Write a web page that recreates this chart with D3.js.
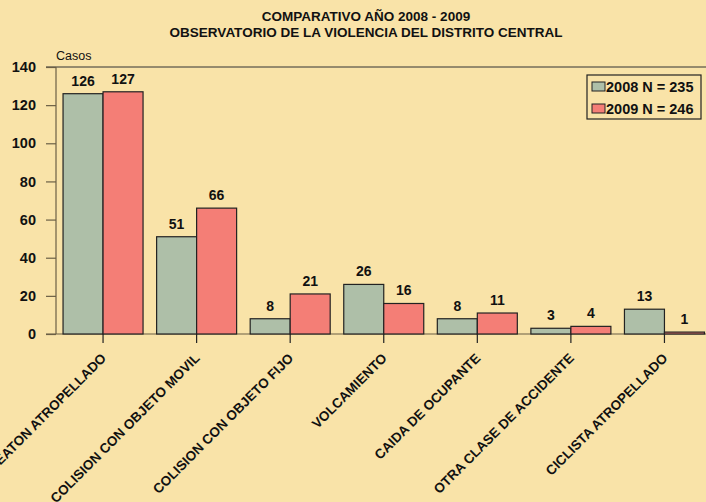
<!DOCTYPE html>
<html><head><meta charset="utf-8">
<script src="https://cdn.jsdelivr.net/npm/d3@7"></script>
<style>body{margin:0;background:#F9E3A8;}svg{display:block;font-family:"Liberation Sans",Arial,sans-serif;}</style>
</head><body>
<script>
const categories = ["PEATON ATROPELLADO","COLISION CON OBJETO MOVIL","COLISION CON OBJETO FIJO","VOLCAMIENTO","CAIDA DE OCUPANTE","OTRA CLASE DE ACCIDENTE","CICLISTA ATROPELLADO"];
const series = ["2008 N = 235","2009 N = 246"];
const values2008 = [126,51,8,26,8,3,13];
const values2009 = [127,66,21,16,11,4,1];
const yTicks = [0,20,40,60,80,100,120,140];
const titleLines = ["COMPARATIVO AÑO 2008 - 2009","OBSERVATORIO DE LA VIOLENCIA DEL DISTRITO CENTRAL"];
const colors = ["#AEBFA8","#F47E76"];

const W=706,H=502;
const svg=d3.select("body").append("svg").attr("width",W).attr("height",H);
svg.append("rect").attr("width",W).attr("height",H).attr("fill","#F9E3A8");

const y=d3.scaleLinear().domain([0,140]).range([334,67]);
const x0=d3.scaleBand().domain(categories).range([56.5,711]).paddingInner(0.145).paddingOuter(0.07);
const x1=d3.scaleBand().domain([0,1]).range([0,x0.bandwidth()]);

// frame lines
svg.append("line").attr("x1",46).attr("x2",W).attr("y1",y(140)).attr("y2",y(140)).attr("stroke","#333").attr("stroke-width",1);
svg.append("line").attr("x1",46).attr("x2",W).attr("y1",y(0)).attr("y2",y(0)).attr("stroke","#6b5f45").attr("stroke-width",1.2);
svg.append("line").attr("x1",56).attr("x2",56).attr("y1",y(0)).attr("y2",y(140)).attr("stroke","#6b5f45").attr("stroke-width",1.2);

// y axis
const ya=svg.append("g").attr("transform","translate(56,0)").call(d3.axisLeft(y).tickValues(yTicks).tickSize(10).tickPadding(10));
ya.select(".domain").remove();
ya.selectAll("line").attr("stroke","#6b5f45").attr("stroke-width",1.2);
ya.selectAll("text").attr("font-size",14.5).attr("font-weight","bold").attr("fill","#111").attr("font-family","Liberation Sans, Arial, sans-serif");

svg.append("text").attr("x",56).attr("y",60).attr("font-size",12.5).attr("fill","#111").text("Casos");

// bars
const data=categories.map((c,i)=>({c,v:[values2008[i],values2009[i]]}));
const g=svg.append("g");
data.forEach(d=>{
  d.v.forEach((v,k)=>{
    const bx=x0(d.c)+x1(k);
    g.append("rect").attr("x",bx).attr("y",y(v)).attr("width",x1.bandwidth()).attr("height",y(0)-y(v))
      .attr("fill",colors[k]).attr("stroke","#222").attr("stroke-width",1.2);
    g.append("text").attr("x",bx+x1.bandwidth()/2).attr("y",y(v)-8).attr("text-anchor","middle")
      .attr("font-size",14).attr("font-weight","bold").attr("fill","#111").text(v);
  });
});

// x ticks & labels
data.forEach(d=>{
  const cx=x0(d.c)+x0.bandwidth()/2;
  svg.append("line").attr("x1",cx).attr("x2",cx).attr("y1",y(0)).attr("y2",y(0)+9).attr("stroke","#222").attr("stroke-width",1.2);
  svg.append("text").attr("transform",`translate(${cx+4},${y(0)+25}) rotate(-45)`).attr("text-anchor","end")
    .attr("font-size",13.5).attr("font-weight","bold").attr("fill","#111").text(d.c);
});

// title
titleLines.forEach((t,i)=>{
  svg.append("text").attr("x",366).attr("y",21+i*16).attr("text-anchor","middle").attr("font-size",13.5).attr("font-weight","bold").attr("fill","#111").text(t);
});

// legend
const lg=svg.append("g");
lg.append("rect").attr("x",587).attr("y",75).attr("width",114).attr("height",44).attr("fill","none").attr("stroke","#222").attr("stroke-width",1.2);
series.forEach((s,i)=>{
  lg.append("rect").attr("x",592).attr("y",82+i*22).attr("width",13).attr("height",9).attr("fill",colors[i]).attr("stroke","#222").attr("stroke-width",1);
  lg.append("text").attr("x",606).attr("y",92+i*22).attr("font-size",14.5).attr("font-weight","bold").attr("fill","#111").text(s);
});
</script>
</body></html>
